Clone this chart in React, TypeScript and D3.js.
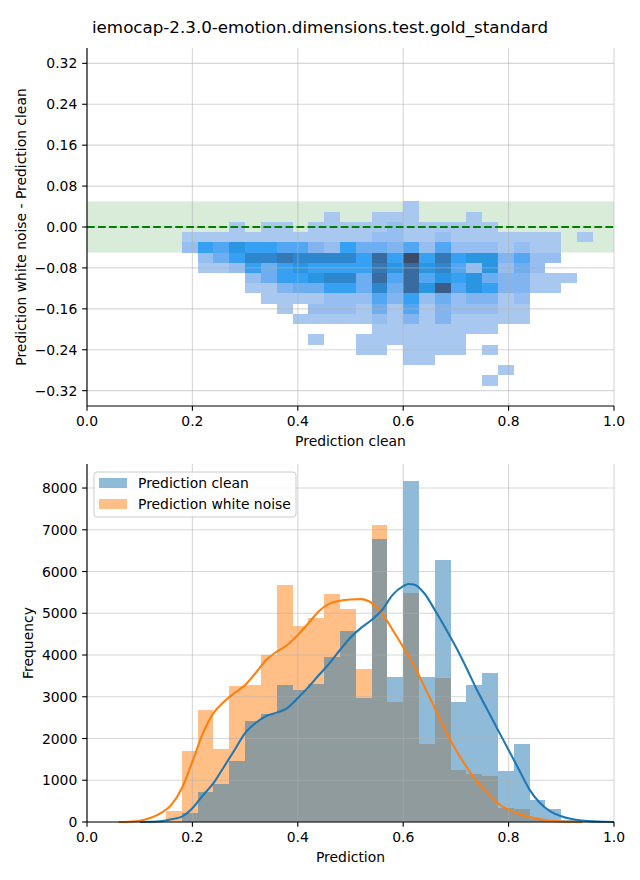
import React from 'react';
import * as d3 from 'd3';

const TITLE = 'iemocap-2.3.0-emotion.dimensions.test.gold_standard';

// ---- top panel: 2D histogram of (clean prediction, noise - clean) ----
const diffXBins = [0.18, 0.21, 0.24, 0.27, 0.30, 0.33, 0.36, 0.39, 0.42, 0.45, 0.48, 0.51, 0.54,
  0.57, 0.60, 0.63, 0.66, 0.69, 0.72, 0.75, 0.78, 0.81, 0.84, 0.87, 0.90, 0.93];
const diffXWidth = 0.03;
const diffYBins = [0.04, 0.02, 0.0, -0.02, -0.04, -0.06, -0.08, -0.10, -0.12, -0.14, -0.16, -0.18,
  -0.20, -0.22, -0.24, -0.26, -0.28, -0.30];
const diffYHeight = 0.02;
const diffCounts = [
  [0,0,0,0,0,0,0,0,0,0,0,0,0,0,55,0,0,0,0,0,0,0,0,0,0,0],
  [0,0,0,0,0,0,0,0,0,55,0,0,55,55,55,0,0,0,55,0,0,0,0,0,0,0],
  [0,0,0,55,0,55,55,0,55,55,55,55,55,160,55,55,55,55,55,55,0,0,0,0,0,0],
  [55,55,55,55,55,55,55,55,55,55,55,55,160,160,55,55,160,55,55,55,55,55,55,55,0,55],
  [160,520,410,610,520,520,410,410,240,160,520,320,320,240,410,160,410,160,160,160,55,160,55,55,0,0],
  [0,160,320,520,710,710,820,710,710,710,710,520,920,520,1150,520,820,520,610,610,240,410,160,160,0,0],
  [0,55,55,160,520,320,520,610,520,520,520,520,820,610,920,610,710,410,160,610,160,320,160,0,0,0],
  [0,0,0,0,160,320,520,520,610,710,710,320,920,410,920,410,610,520,610,320,240,240,55,55,55,0],
  [0,0,0,0,55,55,240,320,320,520,520,320,710,320,920,610,1030,410,610,520,240,240,55,55,0,0],
  [0,0,0,0,0,55,55,55,55,160,160,160,410,240,520,160,320,160,240,240,55,160,0,0,0,0],
  [0,0,0,0,0,0,55,0,160,160,160,55,320,55,410,55,240,160,160,160,55,55,0,0,0,0],
  [0,0,0,0,0,0,0,55,55,55,55,55,160,55,240,55,240,55,55,55,55,55,0,0,0,0],
  [0,0,0,0,0,0,0,0,0,0,0,0,55,55,55,55,55,55,55,55,0,0,0,0,0,0],
  [0,0,0,0,0,0,0,0,55,0,0,55,55,55,55,55,55,55,0,0,0,0,0,0,0,0],
  [0,0,0,0,0,0,0,0,0,0,0,55,55,0,55,55,55,55,0,55,0,0,0,0,0,0],
  [0,0,0,0,0,0,0,0,0,0,0,0,0,0,55,55,0,0,0,0,0,0,0,0,0,0],
  [0,0,0,0,0,0,0,0,0,0,0,0,0,0,0,0,0,0,0,0,55,0,0,0,0,0],
  [0,0,0,0,0,0,0,0,0,0,0,0,0,0,0,0,0,0,0,55,0,0,0,0,0,0],
];
const diffTicks = [-0.32, -0.24, -0.16, -0.08, 0.0, 0.08, 0.16, 0.24, 0.32];
const xTicks = [0, 0.2, 0.4, 0.6, 0.8, 1.0];
const bandLimits = [-0.05, 0.05];

// colour ramp (light -> saturated -> dark)
const cmapStops = [0, 0.05, 0.14, 0.21, 0.28, 0.36, 0.45, 0.53, 0.62, 0.71, 0.80, 0.90, 1.0];
const cmapColors = ['#b4cdee', '#a9c8ef', '#96bef0', '#82b5f0', '#6caef1', '#52a7f2', '#36a0f2',
  '#2a96e2', '#2e86cc', '#3478b6', '#386ba0', '#3a5b84', '#3b4b68'];

// ---- bottom panel: histograms + KDE ----
const histBins = [0.15, 0.18, 0.21, 0.24, 0.27, 0.30, 0.33, 0.36, 0.39, 0.42, 0.45, 0.48, 0.51,
  0.54, 0.57, 0.60, 0.63, 0.66, 0.69, 0.72, 0.75, 0.78, 0.81, 0.84, 0.87, 0.90, 0.93];
const histWidth = 0.03;
const cleanCounts = [0, 220, 718, 917, 1461, 2419, 2587, 3281, 3161, 3305, 3952, 4575, 2978,
  6778, 3473, 8168, 3473, 6275, 2874, 3281, 3569, 1222, 1868, 527, 311, 40, 10];
const noiseCounts = [260, 1700, 2683, 1748, 3257, 3281, 4000, 5677, 4695, 4886, 5461, 5102, 3665,
  7114, 2874, 5485, 1868, 3449, 1245, 1150, 1102, 335, 311, 72, 30, 0, 0];
const freqTicks = [0, 1000, 2000, 3000, 4000, 5000, 6000, 7000, 8000];

const cleanKdeX = [0.10, 0.12, 0.14, 0.16, 0.18, 0.20, 0.22, 0.24, 0.26, 0.28, 0.30, 0.32, 0.34,
  0.36, 0.38, 0.40, 0.42, 0.44, 0.46, 0.48, 0.50, 0.52, 0.54, 0.56, 0.58, 0.60, 0.61, 0.62, 0.64,
  0.66, 0.68, 0.70, 0.72, 0.74, 0.76, 0.78, 0.80, 0.82, 0.84, 0.86, 0.88, 0.90, 0.92, 0.94, 0.96,
  0.98, 1.00];
const cleanKdeY = [0, 5, 20, 65, 130, 330, 640, 930, 1325, 1725, 2130, 2370, 2540, 2620, 2730,
  2970, 3230, 3520, 3800, 4120, 4420, 4650, 4840, 5080, 5440, 5650, 5700, 5690, 5480, 5080, 4650,
  4190, 3690, 3160, 2680, 2200, 1725, 1245, 770, 450, 250, 140, 70, 35, 15, 5, 2];
const noiseKdeX = [0.06, 0.08, 0.10, 0.12, 0.14, 0.16, 0.18, 0.20, 0.22, 0.24, 0.26, 0.28, 0.30,
  0.32, 0.34, 0.36, 0.38, 0.40, 0.42, 0.44, 0.46, 0.48, 0.50, 0.52, 0.54, 0.56, 0.58, 0.60, 0.62,
  0.64, 0.66, 0.68, 0.70, 0.72, 0.74, 0.76, 0.78, 0.80, 0.82, 0.84, 0.86, 0.88, 0.90, 0.92, 0.94];
const noiseKdeY = [0, 8, 30, 95, 210, 410, 810, 1445, 2130, 2610, 2880, 3090, 3280, 3570, 3880,
  4080, 4240, 4480, 4760, 5050, 5230, 5300, 5330, 5340, 5250, 5000, 4600, 4190, 3760, 3250, 2730,
  2200, 1725, 1325, 965, 690, 450, 290, 190, 120, 70, 30, 12, 4, 0];

const BLUE = '#1f77b4';
const ORANGE = '#ff7f0e';
const FONT = '"DejaVu Sans", sans-serif';
const FS = 13.9;
const TICK = 4.86;

const fmtMinus = (s: string) => s.replace('-', '\u2212');

export default function App() {
  const L = 87, R = 614;
  const topT = 48, topB = 406;
  const botT = 464, botB = 822;

  const x = d3.scaleLinear().domain([0, 1]).range([L, R]);
  const yTop = d3.scaleLinear().domain([-0.35, 0.35]).range([topB, topT]);
  const yBot = d3.scaleLinear().domain([0, 8576]).range([botB, botT]);

  const vmax = d3.max(diffCounts.flat()) as number;
  const color = d3.scaleLinear<string>()
    .domain(cmapStops.map((t) => t * vmax))
    .range(cmapColors)
    .interpolate(d3.interpolateRgb)
    .clamp(true);

  const line = d3.line<[number, number]>()
    .x((d) => x(d[0]))
    .y((d) => yBot(d[1]))
    .curve(d3.curveMonotoneX);
  const cleanPath = line(cleanKdeX.map((v, i) => [v, cleanKdeY[i]]) as [number, number][]) || '';
  const noisePath = line(noiseKdeX.map((v, i) => [v, noiseKdeY[i]]) as [number, number][]) || '';

  const gridStyle = { stroke: '#b0b0b0', strokeOpacity: 0.5, strokeWidth: 1.1 };

  const cells: React.ReactNode[] = [];
  diffCounts.forEach((row, ri) => {
    row.forEach((c, ci) => {
      if (c <= 0) return;
      const x0 = x(diffXBins[ci]);
      const x1 = x(diffXBins[ci] + diffXWidth);
      const yc = diffYBins[ri];
      const y0 = yTop(yc + diffYHeight / 2);
      const y1 = yTop(yc - diffYHeight / 2);
      cells.push(
        <rect key={`c${ri}-${ci}`} x={x0} y={y0} width={x1 - x0} height={y1 - y0}
          fill={color(c)} shapeRendering="crispEdges" />
      );
    });
  });

  const bars = (counts: number[], fill: string, key: string) =>
    counts.map((c, i) => {
      if (c <= 0) return null;
      const x0 = x(histBins[i]);
      const x1 = x(histBins[i] + histWidth);
      return (
        <rect key={`${key}${i}`} x={x0} y={yBot(c)} width={x1 - x0} height={yBot(0) - yBot(c)}
          fill={fill} fillOpacity={0.5} shapeRendering="crispEdges" />
      );
    });

  return (
    <svg width={640} height={880} style={{ position: 'absolute', left: 0, top: 0, background: '#fff' }}
      fontFamily={FONT}>
      <rect x={0} y={0} width={640} height={880} fill="#fff" />
      <text x={320} y={33} fontSize={16.7} textAnchor="middle" fill="#000">{TITLE}</text>

      {/* ---------- top panel ---------- */}
      <rect x={L} y={yTop(bandLimits[1])} width={R - L}
        height={yTop(bandLimits[0]) - yTop(bandLimits[1])} fill="green" fillOpacity={0.15} />
      {cells}
      {xTicks.map((t) => (
        <line key={`tgx${t}`} x1={x(t)} x2={x(t)} y1={topT} y2={topB} {...gridStyle} />
      ))}
      {diffTicks.map((t) => (
        <line key={`tgy${t}`} x1={L} x2={R} y1={yTop(t)} y2={yTop(t)} {...gridStyle} />
      ))}
      <line x1={L} x2={R} y1={yTop(0)} y2={yTop(0)} stroke="green" strokeWidth={2.08}
        strokeDasharray="7.7 3.33" />
      <line x1={L} x2={L} y1={topT} y2={topB} stroke="#000" strokeWidth={1.1} />
      <line x1={L} x2={R} y1={topB} y2={topB} stroke="#000" strokeWidth={1.1} />
      {xTicks.map((t) => (
        <g key={`tx${t}`}>
          <line x1={x(t)} x2={x(t)} y1={topB} y2={topB + TICK} stroke="#000" strokeWidth={1.1} />
          <text x={x(t)} y={426} fontSize={FS} textAnchor="middle">{t.toFixed(1)}</text>
        </g>
      ))}
      {diffTicks.map((t) => (
        <g key={`ty${t}`}>
          <line x1={L - TICK} x2={L} y1={yTop(t)} y2={yTop(t)} stroke="#000" strokeWidth={1.1} />
          <text x={L - TICK - 4.86} y={yTop(t)} dy="0.36em" fontSize={FS} textAnchor="end">
            {fmtMinus(t.toFixed(2))}
          </text>
        </g>
      ))}
      <text x={(L + R) / 2} y={446} fontSize={FS} textAnchor="middle">Prediction clean</text>
      <text transform={`translate(25.5,${(topT + topB) / 2}) rotate(-90)`} fontSize={FS}
        textAnchor="middle">Prediction white noise - Prediction clean</text>

      {/* ---------- bottom panel ---------- */}
      {bars(noiseCounts, ORANGE, 'n')}
      {bars(cleanCounts, BLUE, 'b')}
      {xTicks.map((t) => (
        <line key={`bgx${t}`} x1={x(t)} x2={x(t)} y1={botT} y2={botB} {...gridStyle} />
      ))}
      {freqTicks.map((t) => (
        <line key={`bgy${t}`} x1={L} x2={R} y1={yBot(t)} y2={yBot(t)} {...gridStyle} />
      ))}
      <path d={noisePath} fill="none" stroke={ORANGE} strokeWidth={2.08} />
      <path d={cleanPath} fill="none" stroke={BLUE} strokeWidth={2.08} />
      <line x1={L} x2={L} y1={botT} y2={botB} stroke="#000" strokeWidth={1.1} />
      <line x1={L} x2={R} y1={botB} y2={botB} stroke="#000" strokeWidth={1.1} />
      {xTicks.map((t) => (
        <g key={`bx${t}`}>
          <line x1={x(t)} x2={x(t)} y1={botB} y2={botB + TICK} stroke="#000" strokeWidth={1.1} />
          <text x={x(t)} y={842} fontSize={FS} textAnchor="middle">{t.toFixed(1)}</text>
        </g>
      ))}
      {freqTicks.map((t) => (
        <g key={`by${t}`}>
          <line x1={L - TICK} x2={L} y1={yBot(t)} y2={yBot(t)} stroke="#000" strokeWidth={1.1} />
          <text x={L - TICK - 4.86} y={yBot(t)} dy="0.36em" fontSize={FS} textAnchor="end">{t}</text>
        </g>
      ))}
      <text x={(L + R) / 2} y={862} fontSize={FS} textAnchor="middle">Prediction</text>
      <text transform={`translate(33,${(botT + botB) / 2}) rotate(-90)`} fontSize={FS}
        textAnchor="middle">Frequency</text>

      {/* legend */}
      <rect x={94} y={472} width={202} height={45} rx={3} fill="#fff" fillOpacity={0.8}
        stroke="#cccccc" strokeWidth={1} />
      <rect x={99} y={478} width={28} height={10} fill={BLUE} fillOpacity={0.5} />
      <text x={138} y={487.5} fontSize={FS}>Prediction clean</text>
      <rect x={99} y={499} width={28} height={10} fill={ORANGE} fillOpacity={0.5} />
      <text x={138} y={508.5} fontSize={FS}>Prediction white noise</text>
    </svg>
  );
}
